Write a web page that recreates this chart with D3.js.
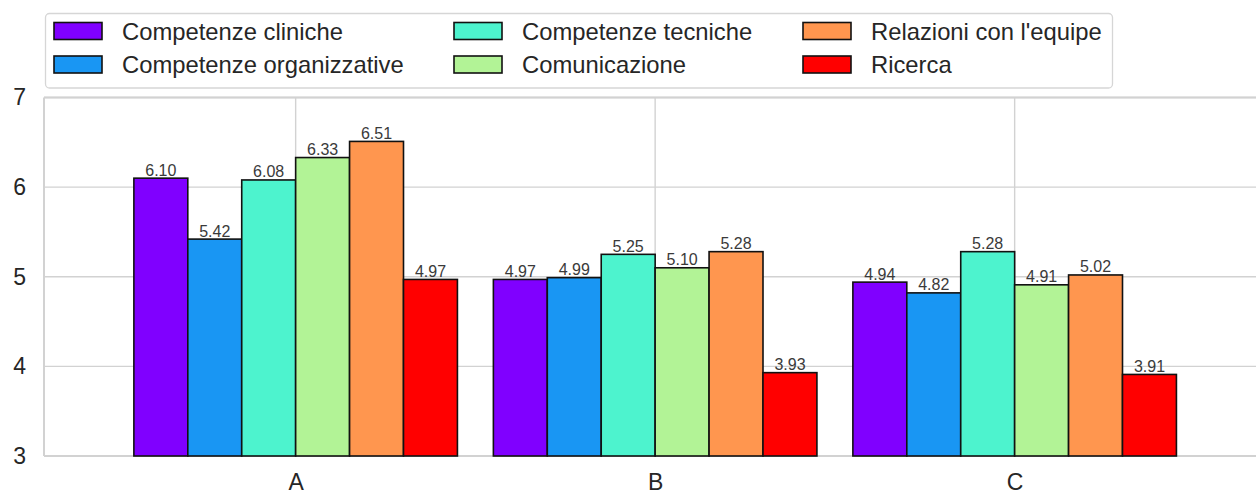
<!DOCTYPE html>
<html>
<head>
<meta charset="utf-8">
<script src="https://cdn.jsdelivr.net/npm/d3@7"></script>
<style>
  html, body { margin: 0; padding: 0; background: #fff; }
  svg { display: block; font-family: "Liberation Sans", Arial, Helvetica, sans-serif; }
</style>
</head>
<body>
<svg id="chart" width="1256" height="498"></svg>
<script>
// Groups along the x axis
const categories = ["A", "B", "C"];

// One series per competence area
const seriesNames = [
  "Competenze cliniche",
  "Competenze organizzative",
  "Competenze tecniche",
  "Comunicazione",
  "Relazioni con l'equipe",
  "Ricerca"
];

const competenzeCliniche      = [6.10, 4.97, 4.94];
const competenzeOrganizzative = [5.42, 4.99, 4.82];
const competenzeTecniche      = [6.08, 5.25, 5.28];
const comunicazione           = [6.33, 5.10, 4.91];
const relazioniEquipe         = [6.51, 5.28, 5.02];
const ricerca                 = [4.97, 3.93, 3.91];

const seriesValues = [
  competenzeCliniche,
  competenzeOrganizzative,
  competenzeTecniche,
  comunicazione,
  relazioniEquipe,
  ricerca
];

const yTicks = [3, 4, 5, 6, 7];

const colors = ["#8000ff", "#1996f3", "#4df3ce", "#b2f396", "#ff964f", "#ff0000"];

// ---- layout ----
const svg = d3.select("#chart");
const plot = { left: 44, top: 97.5, bottom: 456 };
const groupStep = 359.5;
const barW = 0.15;

const x = d3.scaleLinear()
  .domain([-0.7, 2.7])
  .range([plot.left, plot.left + 3.4 * groupStep]);

const y = d3.scaleLinear()
  .domain([3, 7])
  .range([plot.bottom, plot.top]);

const gridColor = "#d2d2d2";
const textColor = "#262626";

// horizontal grid
const yAxis = d3.axisLeft(y).tickValues(yTicks).tickSize(0).tickFormat(d3.format("d"));
svg.append("g").selectAll("line")
  .data(yTicks)
  .join("line")
  .attr("x1", plot.left).attr("x2", 1256)
  .attr("y1", d => y(d)).attr("y2", d => y(d))
  .attr("stroke", gridColor).attr("stroke-width", 1.4);

// vertical grid at group centres
svg.append("g").selectAll("line")
  .data(categories)
  .join("line")
  .attr("x1", (d, i) => x(i)).attr("x2", (d, i) => x(i))
  .attr("y1", plot.top).attr("y2", plot.bottom)
  .attr("stroke", gridColor).attr("stroke-width", 1.4);

// spines
svg.append("line")
  .attr("x1", plot.left).attr("x2", plot.left)
  .attr("y1", plot.top).attr("y2", plot.bottom)
  .attr("stroke", gridColor).attr("stroke-width", 2);
svg.append("line")
  .attr("x1", plot.left).attr("x2", 1256)
  .attr("y1", plot.bottom).attr("y2", plot.bottom)
  .attr("stroke", gridColor).attr("stroke-width", 2);
svg.append("line")
  .attr("x1", plot.left).attr("x2", 1256)
  .attr("y1", plot.top).attr("y2", plot.top)
  .attr("stroke", gridColor).attr("stroke-width", 2);

// y tick labels
const yAxisG = svg.append("g")
  .attr("transform", `translate(${plot.left - 18},0)`)
  .call(yAxis);
yAxisG.select(".domain").remove();
yAxisG.selectAll("text")
  .attr("x", 0)
  .attr("fill", textColor)
  .style("font-size", "23px")
  .style("font-family", "'Liberation Sans', Arial, sans-serif");

// x tick labels
const xAxis = d3.axisBottom(x).tickValues([0, 1, 2]).tickSize(0).tickFormat(i => categories[i]);
const xAxisG = svg.append("g")
  .attr("transform", `translate(0,${plot.bottom + 15})`)
  .call(xAxis);
xAxisG.select(".domain").remove();
xAxisG.selectAll("text")
  .attr("fill", textColor)
  .style("font-size", "23px")
  .style("font-family", "'Liberation Sans', Arial, sans-serif");

// bars
const bars = [];
seriesValues.forEach((vals, s) => {
  vals.forEach((v, c) => bars.push({ s, c, v }));
});

const barG = svg.append("g");
barG.selectAll("rect")
  .data(bars)
  .join("rect")
  .attr("x", d => x(d.c + (d.s - 3) * barW))
  .attr("width", d => x(d.c + (d.s - 2) * barW) - x(d.c + (d.s - 3) * barW))
  .attr("y", d => y(d.v))
  .attr("height", d => y(3) - y(d.v))
  .attr("fill", d => colors[d.s])
  .attr("stroke", "#111")
  .attr("stroke-width", 1.6);

// value labels
barG.selectAll("text")
  .data(bars)
  .join("text")
  .attr("x", d => x(d.c + (d.s - 2.5) * barW))
  .attr("y", d => y(d.v) - 2.5)
  .attr("text-anchor", "middle")
  .attr("fill", "#3a3a3a")
  .style("font-size", "16px")
  .text(d => d.v.toFixed(2));

// legend
const legend = svg.append("g");
legend.append("rect")
  .attr("x", 45.5).attr("y", 13.5)
  .attr("width", 1067).attr("height", 74.5)
  .attr("rx", 4).attr("ry", 4)
  .attr("fill", "#fff")
  .attr("stroke", "#d6d6d6").attr("stroke-width", 1.3);

const colX = [54, 454, 803];
const rowY = [31, 64.5];
seriesNames.forEach((name, i) => {
  const col = Math.floor(i / 2), row = i % 2;
  const g = legend.append("g").attr("transform", `translate(${colX[col]},${rowY[row]})`);
  g.append("rect")
    .attr("x", 0).attr("y", -8.5)
    .attr("width", 48).attr("height", 17)
    .attr("fill", colors[i])
    .attr("stroke", "#111").attr("stroke-width", 1.6);
  g.append("text")
    .attr("x", 68).attr("y", 8.5)
    .attr("fill", textColor)
    .style("font-size", "23.8px")
    .text(name);
});
</script>
</body>
</html>
